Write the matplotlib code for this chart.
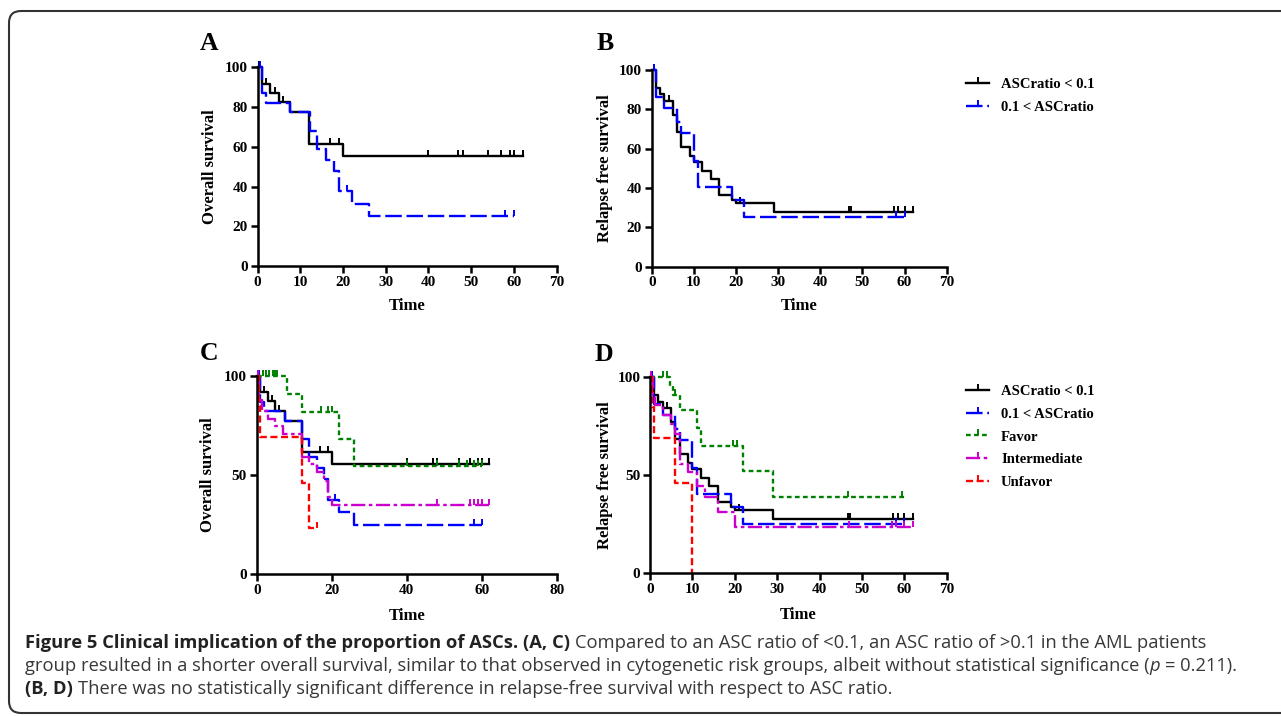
import numpy as np
import matplotlib
matplotlib.use("Agg")
import matplotlib.pyplot as plt
from matplotlib.lines import Line2D
from matplotlib.path import Path
from matplotlib.patches import FancyBboxPatch

# ---- values (time, survival %) ----
# overall survival, ASC ratio < 0.1
os_low_t = [0, 1, 3, 5, 7.5, 12, 20, 62]
os_low_s = [100, 91.7, 87.2, 82.3, 77.4, 61.4, 55.4, 55.4]
os_low_cens = [0.3, 2, 4, 6, 17, 19, 40, 47, 48, 54, 57, 59, 60, 62]
# overall survival, 0.1 < ASC ratio
os_high_t = [0, 1, 2, 7.5, 12.2, 14, 16, 18, 19, 22, 26, 60]
os_high_s = [100, 86.9, 82.2, 77.5, 68, 59, 53.3, 47.8, 37.5, 31.2, 25, 25]
os_high_cens = [0.5, 21, 58, 60]
# overall survival, cytogenetic risk groups
os_fav_t = [0, 8, 12, 22, 26, 60]
os_fav_s = [100, 90.9, 81.8, 68.2, 54.5, 54.5]
os_fav_cens = [1.8, 2.5, 3.2, 4.3, 5, 5.5, 17.2, 19.1, 20, 40, 48, 54, 56, 58, 59, 60]
os_int_t = [0, 0.7, 1.5, 3, 5, 7, 12, 14, 16, 18, 19, 20, 62]
os_int_s = [100, 88, 82.5, 78.5, 74.5, 70.5, 59, 55.5, 51.5, 47, 39, 35, 35]
os_int_cens = [0.3, 48, 57, 58, 59, 60, 62]
os_unf_t = [0, 0.5, 1, 12, 14, 16]
os_unf_s = [100, 85, 69, 46, 23, 23]
os_unf_cens = [16]

# relapse free survival, ASC ratio < 0.1
rfs_low_t = [0, 1, 2, 3, 5, 6, 7, 9, 10, 12, 14, 16, 19, 20, 29, 62]
rfs_low_s = [100, 91, 87.6, 84.2, 77.1, 68.6, 60.7, 56.4, 53, 48.8, 44.6, 36.3,
             34, 32.3, 27.7, 27.7]
rfs_low_cens = [0.5, 4, 21, 46.7, 47.3, 57.4, 58.4, 60, 62]
# relapse free survival, 0.1 < ASC ratio
rfs_high_t = [0, 1, 3, 6, 7, 10, 11, 19, 22, 60]
rfs_high_s = [100, 86.4, 80.8, 73.7, 67.8, 53.8, 40.4, 33.7, 25.2, 25.2]
rfs_high_cens = [0.5, 58, 60]
# relapse free survival, cytogenetic risk groups
rfs_fav_t = [0, 4.7, 5.5, 7, 11, 12, 22, 29, 60]
rfs_fav_s = [100, 95.5, 91, 83.5, 74, 65, 52, 39, 39]
rfs_fav_cens = [3.1, 4.1, 5.9, 19.5, 20.5, 46.8, 59.4]
rfs_int_t = [0, 0.7, 1.2, 3, 5, 6, 7, 9, 11, 13, 16, 20, 62]
rfs_int_s = [100, 91, 86, 81, 76, 71, 56, 51.5, 44.5, 39, 31.5, 23.5, 23.5]
rfs_int_cens = [0.3, 47, 57, 58, 60, 62]
rfs_unf_t = [0, 0.5, 1, 6, 10]
rfs_unf_s = [100, 85, 69, 46, 0]
rfs_unf_cens = []

group_labels = ["ASCratio < 0.1", "0.1 < ASCratio", "Favor", "Intermediate", "Unfavor"]

STYLES = {
    "ASCratio < 0.1": ("black", "-"),
    "0.1 < ASCratio": ("#0000ff", (0, (7, 2))),
    "Favor": ("#008000", (0, (2, 1.4))),
    "Intermediate": ("#cc00cc", (0, (6, 1.5, 1.5, 1.5))),
    "Unfavor": ("#ff0000", (0, (3, 1.5))),
}

TICK = Path([(0, 0), (0, 1)], [Path.MOVETO, Path.LINETO])
LW = 1.7
SERIF = "Liberation Serif"
CAPTION_SIZE = 13.2


def draw_curve(ax, times, surv, censor, label):
    color, ls = STYLES[label]
    ax.step(times, surv, where="post", color=color, linestyle=ls, lw=LW, clip_on=False)
    if len(censor):
        idx = np.searchsorted(times, censor, side="right") - 1
        ax.plot(censor, np.asarray(surv)[idx], linestyle="none", marker=TICK,
                ms=8, mew=1.4, color=color, clip_on=False)


def style_axes(ax, xmax, xstep, ystep, ylabel, ylab_x, xlab_y):
    ax.set_xlim(0, xmax)
    ax.set_ylim(0, 100)
    ax.spines["top"].set_visible(False)
    ax.spines["right"].set_visible(False)
    ax.spines["left"].set_linewidth(1.8)
    ax.spines["bottom"].set_linewidth(1.8)
    ax.set_xticks(np.arange(0, xmax + 1, xstep))
    ax.set_yticks(np.arange(0, 101, ystep))
    ax.tick_params(direction="out", length=5, width=1.8, labelsize=11, pad=2)
    for lbl in ax.get_xticklabels() + ax.get_yticklabels():
        lbl.set_fontweight("bold")
    ax.set_xlabel("Time", fontsize=12, fontweight="bold")
    ax.set_ylabel(ylabel, fontsize=12, fontweight="bold")
    ax.yaxis.set_label_coords(ylab_x, 0.5)
    ax.xaxis.set_label_coords(0.5, xlab_y)


def legend_handle(label):
    color, ls = STYLES[label]
    return Line2D([], [], color=color, linestyle=ls, lw=LW, marker=TICK, ms=8, mew=1.4)


def draw_runs(ax, renderer, x, y, runs):
    probe = dict(family="Open Sans", fontsize=CAPTION_SIZE)
    t1 = ax.text(0, 0, "a a", **probe)
    t2 = ax.text(0, 0, "aa", **probe)
    space = t1.get_window_extent(renderer).width - t2.get_window_extent(renderer).width
    t1.remove()
    t2.remove()
    for text, weight, style, gap in runs:
        color = "#222222" if weight == "bold" else "#383838"
        t = ax.text(x, y, text, family="Open Sans", fontsize=CAPTION_SIZE, fontweight=weight,
                    fontstyle=style, color=color, va="baseline", ha="left")
        x += t.get_window_extent(renderer).width + (space if gap else 0)


def main():
    plt.rcParams["font.family"] = SERIF
    W, H = 1281, 716
    fig = plt.figure(figsize=(W / 100, H / 100), dpi=100)

    bg = fig.add_axes([0, 0, 1, 1])
    bg.set_xlim(0, W)
    bg.set_ylim(H, 0)
    bg.axis("off")
    bg.add_patch(FancyBboxPatch((9, 11), 1310, 702,
                                boxstyle="round,pad=0,rounding_size=12",
                                fill=False, lw=1.5, edgecolor="#333333"))

    def px_axes(x0, x1, y0, y1):
        return fig.add_axes([x0 / W, 1 - y1 / H, (x1 - x0) / W, (y1 - y0) / H])

    ax_a = px_axes(257.5, 556.7, 67.3, 266)
    ax_b = px_axes(651.7, 946.7, 70, 266.7)
    ax_c = px_axes(256.7, 556.7, 376, 574)
    ax_d = px_axes(650, 946.7, 377.3, 573.3)

    draw_curve(ax_a, os_low_t, os_low_s, os_low_cens, group_labels[0])
    draw_curve(ax_a, os_high_t, os_high_s, os_high_cens, group_labels[1])
    style_axes(ax_a, 70, 10, 20, "Overall survival", -0.131, -0.161)

    draw_curve(ax_b, rfs_low_t, rfs_low_s, rfs_low_cens, group_labels[0])
    draw_curve(ax_b, rfs_high_t, rfs_high_s, rfs_high_cens, group_labels[1])
    style_axes(ax_b, 70, 10, 20, "Relapse free survival", -0.130, -0.161)

    draw_curve(ax_c, os_low_t, os_low_s, os_low_cens, group_labels[0])
    draw_curve(ax_c, os_high_t, os_high_s, os_high_cens, group_labels[1])
    draw_curve(ax_c, os_fav_t, os_fav_s, os_fav_cens, group_labels[2])
    draw_curve(ax_c, os_int_t, os_int_s, os_int_cens, group_labels[3])
    draw_curve(ax_c, os_unf_t, os_unf_s, os_unf_cens, group_labels[4])
    style_axes(ax_c, 80, 20, 50, "Overall survival", -0.136, -0.172)

    draw_curve(ax_d, rfs_low_t, rfs_low_s, rfs_low_cens, group_labels[0])
    draw_curve(ax_d, rfs_high_t, rfs_high_s, rfs_high_cens, group_labels[1])
    draw_curve(ax_d, rfs_fav_t, rfs_fav_s, rfs_fav_cens, group_labels[2])
    draw_curve(ax_d, rfs_int_t, rfs_int_s, rfs_int_cens, group_labels[3])
    draw_curve(ax_d, rfs_unf_t, rfs_unf_s, rfs_unf_cens, group_labels[4])
    style_axes(ax_d, 70, 10, 50, "Relapse free survival", -0.124, -0.17)

    # panel letters
    for letter, x, y in [("A", 200, 50), ("B", 597, 50), ("C", 200, 360), ("D", 595, 361)]:
        bg.text(x, y, letter, fontsize=18.5, fontweight="bold", va="baseline", ha="left")

    leg_kw = dict(loc="upper left", frameon=False, borderpad=0, borderaxespad=0,
                  prop=dict(family=SERIF, weight="bold", size=10.5),
                  handlelength=1.6, handletextpad=0.8, labelspacing=0.65, numpoints=1)
    fig.legend([legend_handle(l) for l in group_labels[:2]], group_labels[:2],
               bbox_to_anchor=(966 / W, 1 - 78 / H), **leg_kw)
    fig.legend([legend_handle(l) for l in group_labels], group_labels,
               bbox_to_anchor=(966 / W, 1 - 385 / H), **leg_kw)

    renderer = fig.canvas.get_renderer()
    draw_runs(bg, renderer, 25, 648, [
        ("Figure 5 Clinical implication of the proportion of ASCs.", "bold", "normal", True),
        ("(A, C)", "bold", "normal", True),
        ("Compared to an ASC ratio of <0.1, an ASC ratio of >0.1 in the AML patients",
         "normal", "normal", False),
    ])
    draw_runs(bg, renderer, 25, 671, [
        ("group resulted in a shorter overall survival, similar to that observed in "
         "cytogenetic risk groups, albeit without statistical significance (",
         "normal", "normal", False),
        ("p", "normal", "italic", True),
        ("= 0.211).", "normal", "normal", False),
    ])
    draw_runs(bg, renderer, 25, 694, [
        ("(B, D)", "bold", "normal", True),
        ("There was no statistically significant difference in relapse-free survival "
         "with respect to ASC ratio.", "normal", "normal", False),
    ])

    fig.savefig("out.png", dpi=100)


if __name__ == "__main__":
    main()
